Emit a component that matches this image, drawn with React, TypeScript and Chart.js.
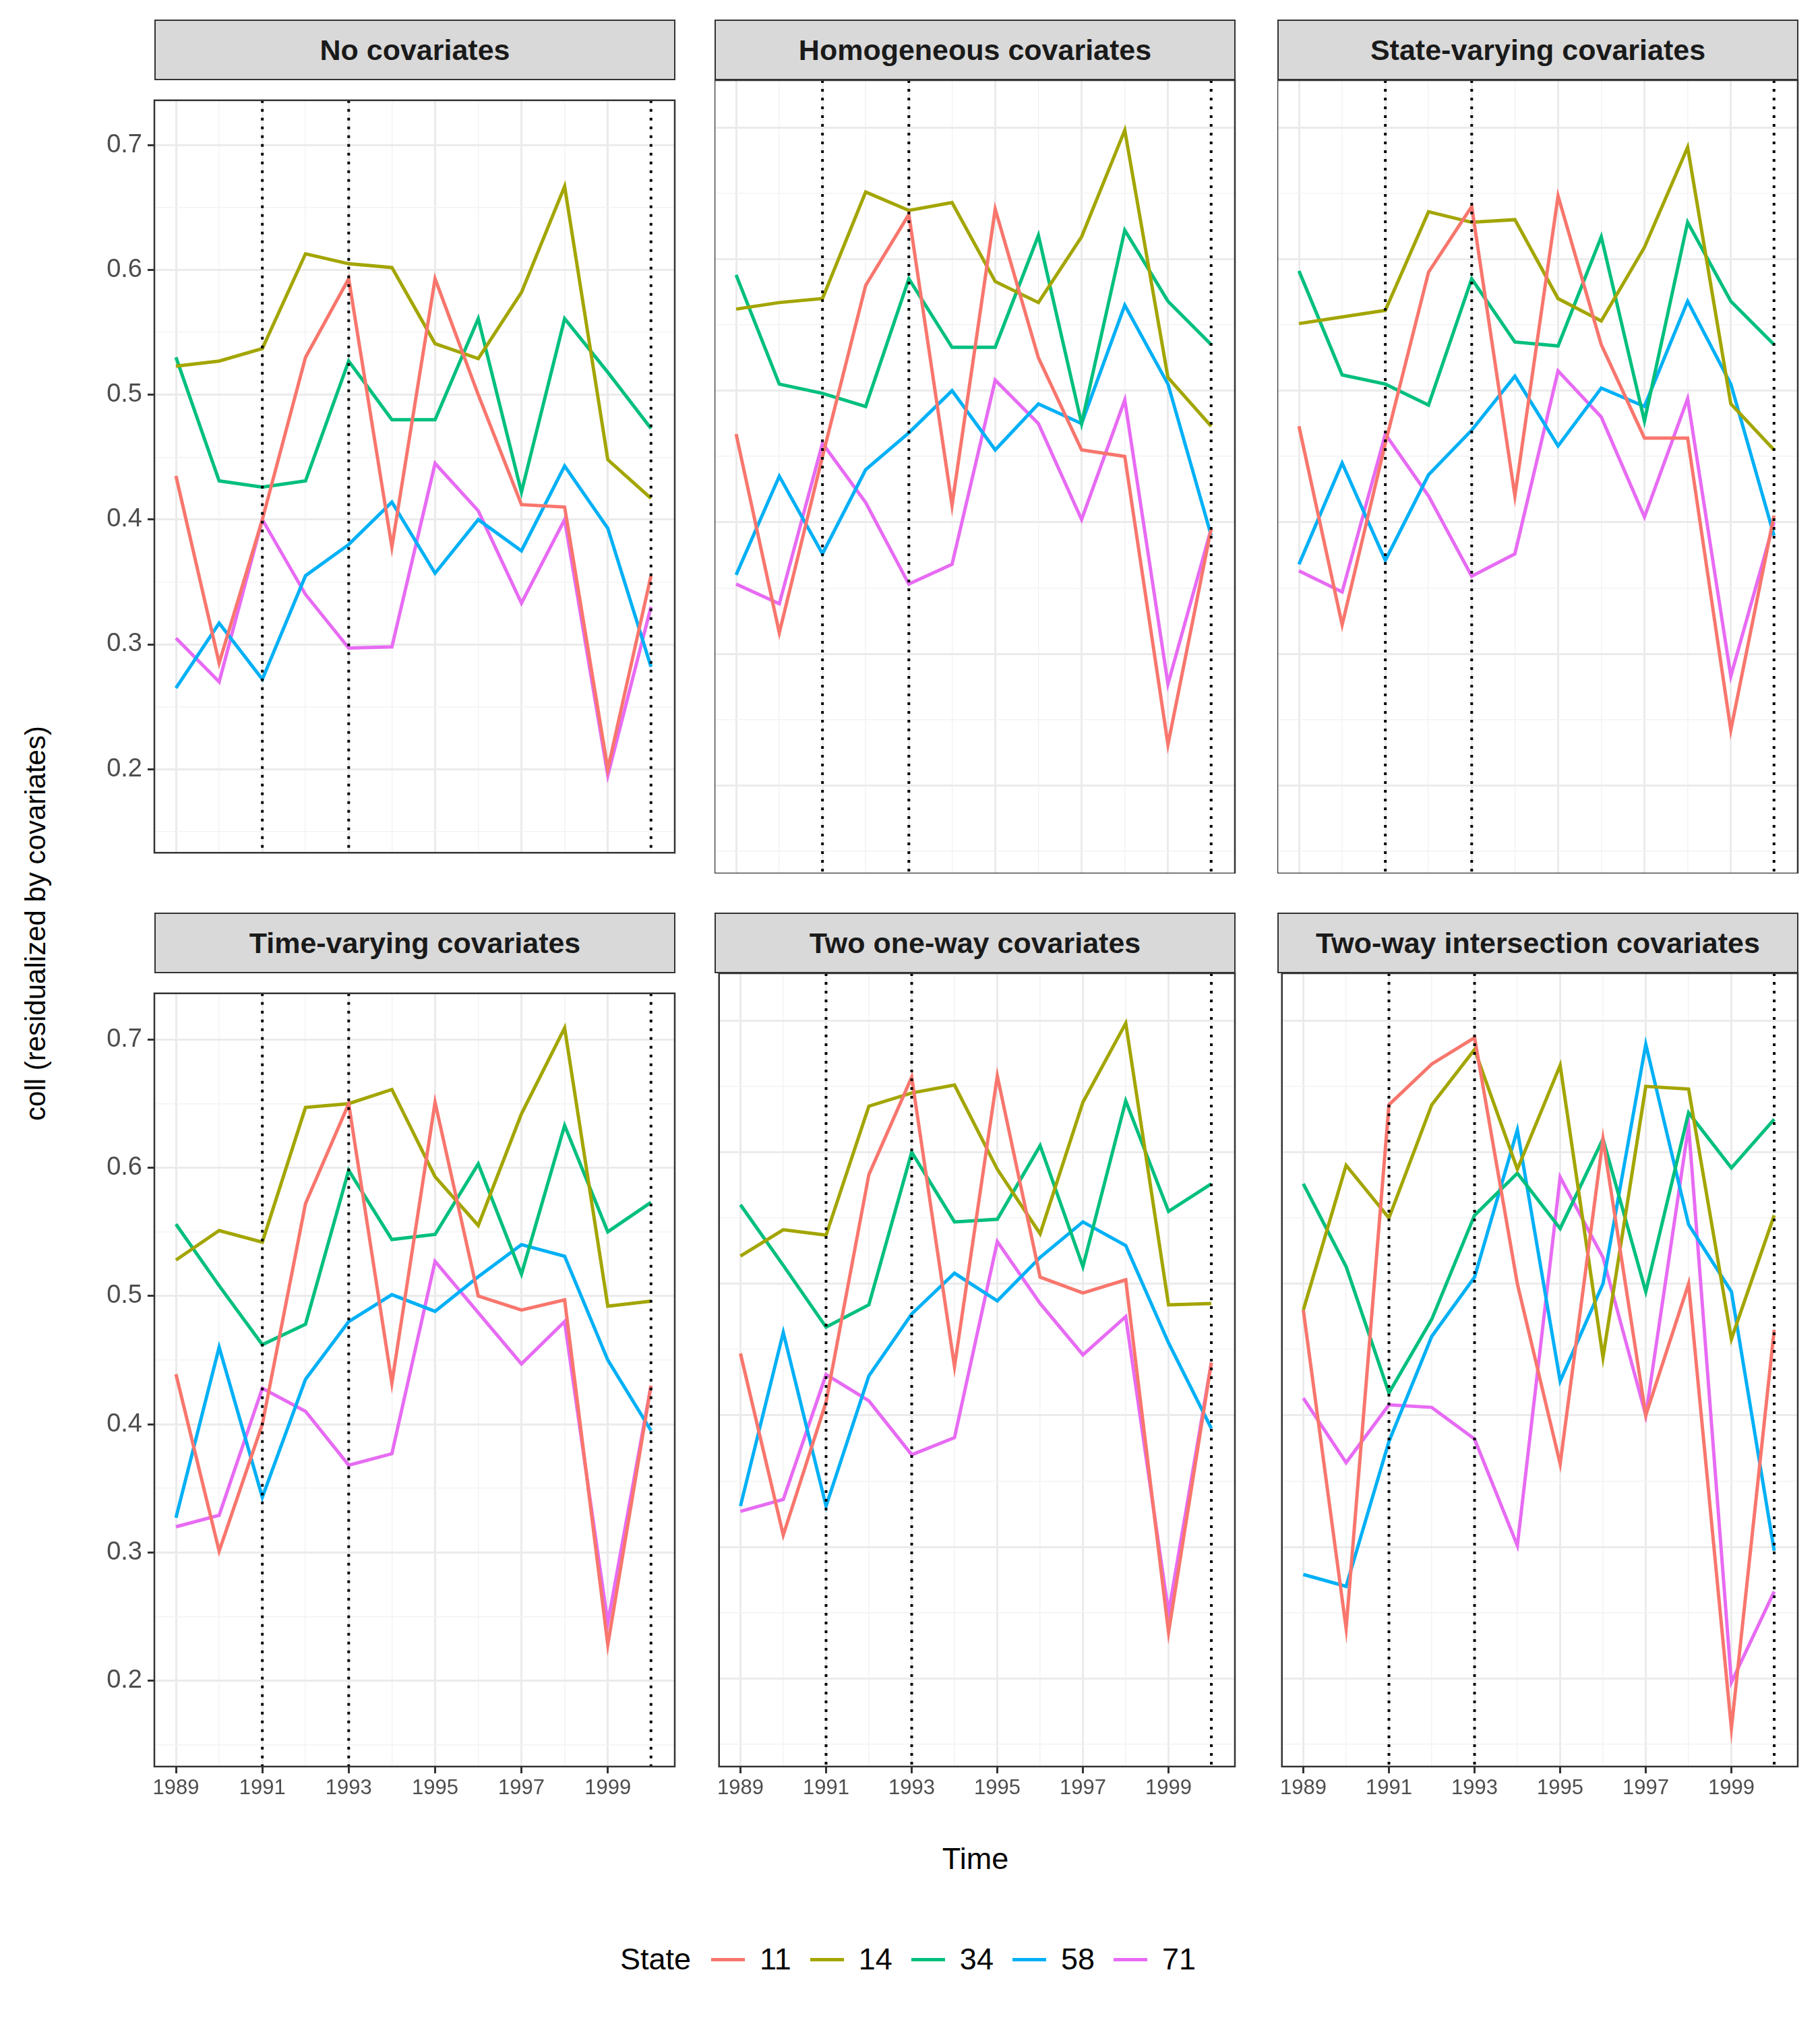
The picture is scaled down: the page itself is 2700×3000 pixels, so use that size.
import React, { useEffect, useRef } from "react";
import { Chart, registerables } from "chart.js";
Chart.register(...registerables);

const years = [1989, 1990, 1991, 1992, 1993, 1994, 1995, 1996, 1997, 1998, 1999, 2000];
const states = ["11", "14", "34", "58", "71"];
const colors = ["#F8766D", "#A3A500", "#00BF7D", "#00B0F6", "#E76BF3"];
const panelTitles = [
  "No covariates",
  "Homogeneous covariates",
  "State-varying covariates",
  "Time-varying covariates",
  "Two one-way covariates",
  "Two-way intersection covariates",
];
const treatYears = [1991, 1993, 2000];
const yTicks = [0.15, 0.2, 0.25, 0.3, 0.35, 0.4, 0.45, 0.5, 0.55, 0.6, 0.65, 0.7];

const noCov = [
  [0.435, 0.285, 0.40, 0.53, 0.593, 0.378, 0.593, 0.50, 0.412, 0.41, 0.20, 0.355],
  [0.523, 0.527, 0.537, 0.613, 0.605, 0.602, 0.541, 0.529, 0.582, 0.667, 0.448, 0.417],
  [0.53, 0.431, 0.426, 0.431, 0.527, 0.48, 0.48, 0.561, 0.422, 0.561, 0.518, 0.473],
  [0.265, 0.317, 0.272, 0.355, 0.38, 0.414, 0.357, 0.40, 0.375, 0.443, 0.393, 0.282],
  [0.305, 0.27, 0.40, 0.34, 0.297, 0.298, 0.445, 0.407, 0.333, 0.40, 0.195, 0.33],
];
const homCov = [
  [0.467, 0.316, 0.45, 0.58, 0.634, 0.413, 0.638, 0.525, 0.455, 0.45, 0.231, 0.395],
  [0.562, 0.567, 0.57, 0.651, 0.637, 0.643, 0.583, 0.567, 0.617, 0.698, 0.51, 0.473],
  [0.588, 0.505, 0.498, 0.488, 0.585, 0.533, 0.533, 0.618, 0.475, 0.622, 0.568, 0.535],
  [0.36, 0.435, 0.376, 0.44, 0.468, 0.50, 0.455, 0.49, 0.475, 0.565, 0.505, 0.39],
  [0.353, 0.338, 0.46, 0.415, 0.353, 0.368, 0.508, 0.475, 0.402, 0.493, 0.277, 0.395],
];
const stateCov = [
  [0.473, 0.322, 0.46, 0.59, 0.64, 0.42, 0.648, 0.535, 0.464, 0.464, 0.242, 0.405],
  [0.551, 0.556, 0.561, 0.636, 0.628, 0.63, 0.57, 0.553, 0.609, 0.685, 0.49, 0.455],
  [0.591, 0.512, 0.505, 0.489, 0.585, 0.537, 0.534, 0.617, 0.477, 0.628, 0.568, 0.535],
  [0.368, 0.445, 0.371, 0.436, 0.47, 0.511, 0.458, 0.502, 0.488, 0.568, 0.505, 0.39],
  [0.363, 0.347, 0.467, 0.42, 0.359, 0.376, 0.515, 0.48, 0.404, 0.494, 0.283, 0.40],
];
const timeCov = [
  [0.439, 0.301, 0.4, 0.572, 0.65, 0.432, 0.651, 0.5, 0.489, 0.497, 0.228, 0.43],
  [0.528, 0.551, 0.542, 0.647, 0.65, 0.661, 0.593, 0.555, 0.642, 0.709, 0.492, 0.496],
  [0.556, 0.508, 0.462, 0.478, 0.598, 0.544, 0.548, 0.603, 0.517, 0.633, 0.55, 0.573],
  [0.327, 0.46, 0.343, 0.435, 0.48, 0.501, 0.488, 0.515, 0.54, 0.531, 0.45, 0.395],
  [0.32, 0.329, 0.428, 0.41, 0.368, 0.377, 0.527, 0.487, 0.447, 0.48, 0.245, 0.43],
];
const oneWayCov = [
  [0.447, 0.309, 0.41, 0.583, 0.657, 0.437, 0.658, 0.505, 0.493, 0.503, 0.235, 0.44],
  [0.521, 0.541, 0.537, 0.635, 0.645, 0.651, 0.587, 0.538, 0.638, 0.698, 0.484, 0.485],
  [0.56, 0.514, 0.467, 0.484, 0.6, 0.547, 0.549, 0.605, 0.513, 0.639, 0.555, 0.576],
  [0.331, 0.463, 0.331, 0.43, 0.477, 0.508, 0.487, 0.52, 0.547, 0.529, 0.455, 0.39],
  [0.327, 0.336, 0.431, 0.411, 0.37, 0.383, 0.532, 0.485, 0.446, 0.475, 0.25, 0.44],
];
const twoWayCov = [
  [0.48, 0.238, 0.636, 0.667, 0.687, 0.5, 0.363, 0.61, 0.4, 0.5, 0.162, 0.465],
  [0.48, 0.59, 0.55, 0.636, 0.678, 0.587, 0.666, 0.444, 0.65, 0.648, 0.458, 0.552],
  [0.576, 0.513, 0.417, 0.473, 0.552, 0.584, 0.542, 0.61, 0.494, 0.63, 0.588, 0.625],
  [0.279, 0.27, 0.38, 0.46, 0.505, 0.617, 0.426, 0.5, 0.682, 0.545, 0.494, 0.297],
  [0.413, 0.364, 0.408, 0.406, 0.382, 0.301, 0.581, 0.52, 0.4, 0.62, 0.197, 0.266],
];
const panelData = [noCov, homCov, stateCov, timeCov, oneWayCov, twoWayCov];

const COL_X = [229, 1060, 1895];
const PANEL_W = 771;
const ROW_Y = [29, 1354];
const STRIP_H = 88;
const PLOT_H = 1176;
const YAXIS_W = 120;
const XAXIS_H = 70;
const FONT = "Arial, 'Liberation Sans', sans-serif";

const isMajorY = (v: number) => Math.abs(v * 10 - Math.round(v * 10)) < 1e-6;

const decor = {
  id: "decor",
  afterDatasetsDraw(chart: any) {
    const { ctx, chartArea: a, scales } = chart;
    ctx.save();
    ctx.strokeStyle = "#000";
    ctx.lineWidth = 4;
    ctx.setLineDash([4, 9]);
    treatYears.forEach((yr) => {
      const x = scales.x.getPixelForValue(yr);
      ctx.beginPath();
      ctx.moveTo(x, a.top);
      ctx.lineTo(x, a.bottom);
      ctx.stroke();
    });
    ctx.setLineDash([]);
    ctx.strokeStyle = "#333";
    ctx.lineWidth = 2.5;
    ctx.strokeRect(a.left, a.top, a.right - a.left, a.bottom - a.top);
    ctx.restore();
  },
};

function Panel({ idx }: { idx: number }) {
  const ref = useRef<HTMLCanvasElement>(null);
  const col = idx % 3;
  const row = Math.floor(idx / 3);
  const leftCol = col === 0;
  const bottomRow = row === 1;
  const cw = PANEL_W + (leftCol ? YAXIS_W : 0) + 4;
  const ch = PLOT_H + (bottomRow ? XAXIS_H : 0) + 2;
  useEffect(() => {
    const chart = new Chart(ref.current as HTMLCanvasElement, {
      type: "line",
      data: {
        labels: years,
        datasets: states.map((s, i) => ({
          label: s,
          data: years.map((y, j) => ({ x: y, y: panelData[idx][i][j] })),
          borderColor: colors[i],
          backgroundColor: colors[i],
          borderWidth: 5,
          pointRadius: 0,
          tension: 0,
        })),
      },
      options: {
        animation: false,
        responsive: false,
        devicePixelRatio: 1,
        layout: { padding: { top: 1, right: 3, left: 0, bottom: 0 } },
        plugins: { legend: { display: false }, tooltip: { enabled: false } },
        scales: {
          x: {
            type: "linear",
            min: 1988.5,
            max: 2000.55,
            afterBuildTicks: (ax: any) => {
              ax.ticks = years.map((v) => ({ value: v }));
            },
            afterFit: (ax: any) => {
              ax.height = bottomRow ? XAXIS_H : 0;
            },
            border: { display: false },
            grid: {
              color: (c: any) => (c.tick && c.tick.value % 2 === 1 ? "#ebebeb" : "#f3f3f3"),
              lineWidth: (c: any) => (c.tick && c.tick.value % 2 === 1 ? 3 : 1.5),
              tickColor: (c: any) => (c.tick && c.tick.value % 2 === 1 ? "#333" : "rgba(0,0,0,0)"),
              tickLength: 10,
              drawTicks: bottomRow,
            },
            ticks: {
              display: bottomRow,
              maxRotation: 0,
              autoSkip: false,
              color: "#4d4d4d",
              font: { size: 31, family: FONT },
              padding: 4,
              callback: (v: any) => (Number(v) % 2 === 1 ? String(v) : ""),
            },
          },
          y: {
            type: "linear",
            min: 0.133,
            max: 0.736,
            afterBuildTicks: (ax: any) => {
              ax.ticks = yTicks.map((v) => ({ value: v }));
            },
            afterFit: (ax: any) => {
              ax.width = leftCol ? YAXIS_W : 0;
            },
            border: { display: false },
            grid: {
              color: (c: any) => (c.tick && isMajorY(c.tick.value) ? "#ebebeb" : "#f3f3f3"),
              lineWidth: (c: any) => (c.tick && isMajorY(c.tick.value) ? 3 : 1.5),
              tickColor: (c: any) => (c.tick && isMajorY(c.tick.value) ? "#333" : "rgba(0,0,0,0)"),
              tickLength: 10,
              drawTicks: leftCol,
            },
            ticks: {
              display: leftCol,
              autoSkip: false,
              color: "#4d4d4d",
              font: { size: 38, family: FONT },
              padding: 8,
              callback: (v: any) => (isMajorY(Number(v)) ? Number(v).toFixed(1) : ""),
            },
          },
        },
      },
      plugins: [decor],
    } as any);
    return () => chart.destroy();
  }, []);
  const px = COL_X[col];
  const py = ROW_Y[row];
  return (
    <>
      <div
        style={{
          position: "absolute",
          left: px,
          top: py,
          width: PANEL_W - 2,
          height: STRIP_H - 2,
          background: "#d9d9d9",
          border: "2.5px solid #333",
          display: "flex",
          alignItems: "center",
          justifyContent: "center",
          fontFamily: FONT,
          fontWeight: "bold",
          fontSize: 43,
          color: "#1a1a1a",
          whiteSpace: "nowrap",
          boxSizing: "content-box",
        }}
      >
        {panelTitles[idx]}
      </div>
      <canvas
        ref={ref}
        width={cw}
        height={ch}
        style={{
          position: "absolute",
          left: px - (leftCol ? YAXIS_W : 0),
          top: py + STRIP_H + 1,
          width: cw,
          height: ch,
        }}
      />
    </>
  );
}

export default function App() {
  return (
    <div style={{ position: "relative", width: 2700, height: 3000, background: "#fff", marginTop: -8, marginLeft: -8 }}>
      {[0, 1, 2, 3, 4, 5].map((i) => (
        <Panel key={i} idx={i} />
      ))}
      <div
        style={{
          position: "absolute",
          left: 53,
          top: 1370,
          transform: "translate(-50%,-50%) rotate(-90deg)",
          fontFamily: FONT,
          fontSize: 42,
          whiteSpace: "nowrap",
          color: "#000",
        }}
      >
        coll (residualized by covariates)
      </div>
      <div
        style={{
          position: "absolute",
          left: 1447,
          top: 2758,
          transform: "translate(-50%,-50%)",
          fontFamily: FONT,
          fontSize: 45,
          color: "#000",
        }}
      >
        Time
      </div>
      <div
        style={{
          position: "absolute",
          left: 920,
          top: 2907,
          transform: "translateY(-50%)",
          display: "flex",
          alignItems: "center",
          fontFamily: FONT,
          fontSize: 45,
          color: "#000",
        }}
      >
        <span style={{ marginRight: 30 }}>State</span>
        {states.map((s, i) => (
          <span key={s} style={{ display: "flex", alignItems: "center", marginRight: 28 }}>
            <span style={{ display: "inline-block", width: 50, height: 5, background: colors[i], marginRight: 22 }} />
            <span>{s}</span>
          </span>
        ))}
      </div>
    </div>
  );
}
